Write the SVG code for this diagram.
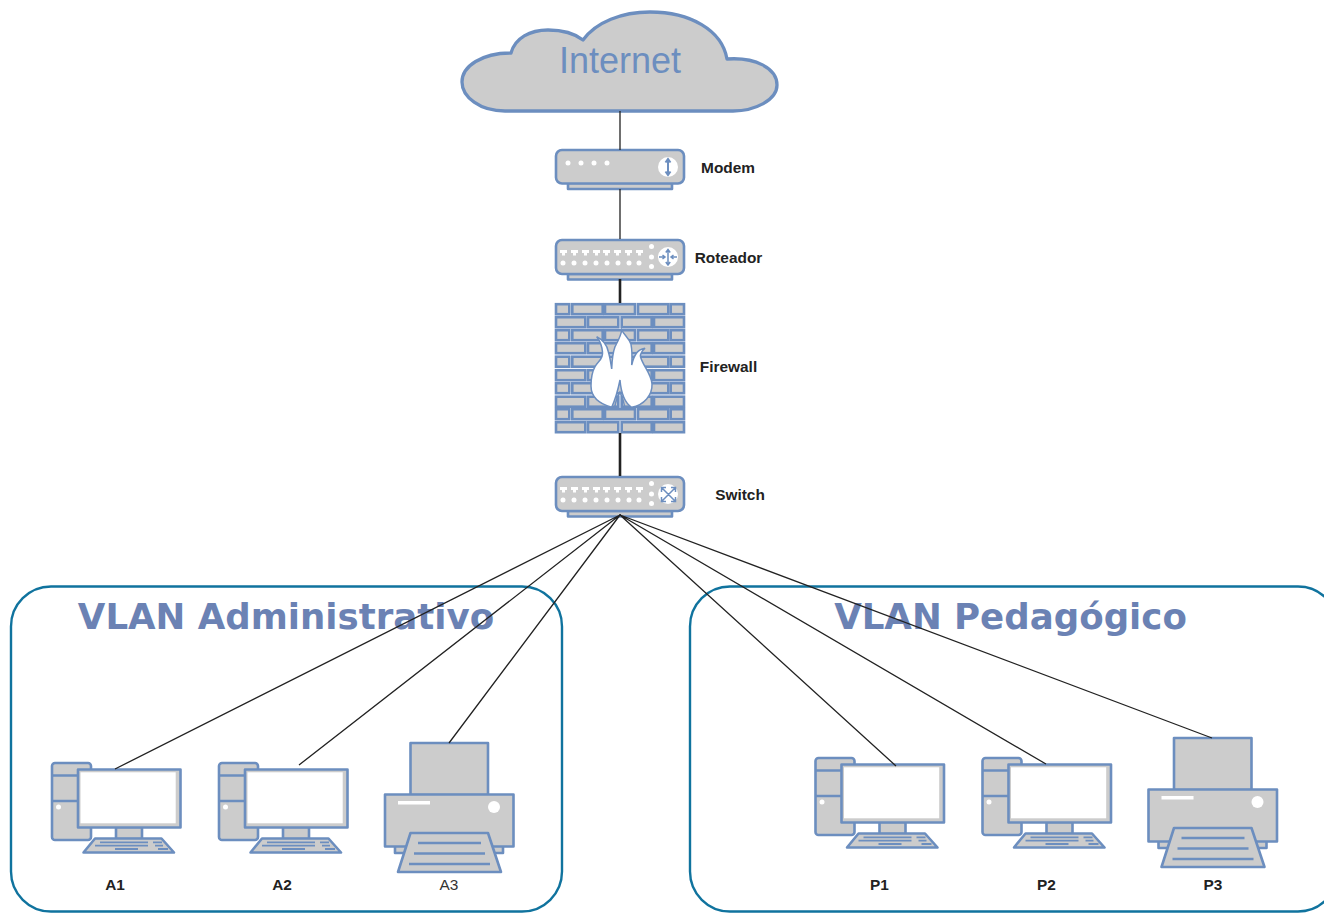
<svg xmlns="http://www.w3.org/2000/svg" width="1324" height="913" viewBox="0 0 1324 913">
<style>
text{font-family:"Liberation Sans",Arial,sans-serif}
.s{fill:#ccc;stroke:#6c8ebf;stroke-width:2.6;stroke-linejoin:round}
.b{fill:none;stroke:#6c8ebf;stroke-width:2.4}
.k{fill:none;stroke:#6c8ebf;stroke-width:1.8}
.w{fill:#fff}
.c{fill:none;stroke:#222;stroke-width:1.3}
.c2{fill:none;stroke:#222;stroke-width:2.6}
.vl{fill:none;stroke:#10739e;stroke-width:2.4}
.t{font-size:15.4px;font-weight:bold;fill:#222;text-anchor:middle}
.h{font-size:35.6px;font-weight:bold;fill:#6b82b4;text-anchor:middle;font-family:"DejaVu Sans",sans-serif}
.br{fill:#ccc;stroke:#6c8ebf;stroke-width:2.6}
.ic{fill:none;stroke:#6c8ebf;stroke-width:1.5}
</style>
<defs>
<g id="pc">
<rect class="s" x="1" y="1" width="39" height="77" rx="3"/>
<path class="b" d="M1 13.500H27M1 39H27"/>
<circle class="w" cx="7.500" cy="45" r="2.500"/>
<rect class="s" x="65" y="65" width="26" height="12"/>
<rect class="s" x="27" y="7.500" width="102.500" height="58"/>
<rect class="w" x="29.500" y="10.300" width="95.200" height="51"/>
<path class="s" d="M44 76.500H110.500L123 90.500H32.500Z"/>
<path class="k" d="M49 80.300H97M44 83.700H97M64 87H87M102 80.300H111M104 83.700H112M107 87H117"/>
</g>
<g id="printer">
<rect class="s" x="26.500" y="0" width="77.500" height="52"/>
<rect class="s" x="11" y="100" width="108" height="10"/>
<rect class="s" x="1" y="51.500" width="128.500" height="52"/>
<rect class="w" x="14" y="58" width="32" height="3.500"/>
<circle class="w" cx="110" cy="64" r="6"/>
<path class="s" d="M26.500 90H104L117 129H14Z"/>
<path class="b" d="M34 100H97M30 110.500H101M25 121H106"/>
</g>
<g id="row1">
<rect class="br" x="2" y="1.200" width="13.300" height="10"/><rect class="br" x="18.300" y="1.200" width="30.400" height="10"/><rect class="br" x="51" y="1.200" width="30" height="10"/><rect class="br" x="84" y="1.200" width="30.300" height="10"/><rect class="br" x="116.700" y="1.200" width="13.300" height="10"/>
</g>
<g id="row2">
<rect class="br" x="2" y="1.200" width="29.300" height="10"/><rect class="br" x="34" y="1.200" width="30.300" height="10"/><rect class="br" x="67.700" y="1.200" width="30" height="10"/><rect class="br" x="100" y="1.200" width="30" height="10"/>
</g>
<g id="rack">
<path class="s" d="M13 34H117V39.500H13Z"/>
<rect class="s" x="1" y="0" width="128" height="34" rx="6"/>
<g class="w">
<path d="M5 10H12V13H10V15.500H7V13H5Z"/><path d="M16 10H23V13H21V15.500H18V13H16Z"/><path d="M27 10H34V13H32V15.500H29V13H27Z"/><path d="M38 10H45V13H43V15.500H40V13H38Z"/><path d="M48 10H55V13H53V15.500H50V13H48Z"/><path d="M59 10H66V13H64V15.500H61V13H59Z"/><path d="M70 10H77V13H75V15.500H72V13H70Z"/><path d="M81 10H88V13H86V15.500H83V13H81Z"/>
<circle cx="8" cy="23" r="2.500"/><circle cx="19" cy="23" r="2.500"/><circle cx="30" cy="23" r="2.500"/><circle cx="41" cy="23" r="2.500"/><circle cx="52" cy="23" r="2.500"/><circle cx="63" cy="23" r="2.500"/><circle cx="74" cy="23" r="2.500"/><circle cx="84" cy="23" r="2.500"/>
<circle cx="96.500" cy="6.500" r="2.500"/><circle cx="96.500" cy="17" r="2.500"/><circle cx="96.500" cy="26.500" r="2.500"/>
<circle cx="113" cy="17" r="10"/>
</g>
</g>
</defs>

<g id="vlan-admin"><rect class="vl" x="11" y="586.500" width="551" height="325" rx="40"/>
<text class="h" x="286" y="629">VLAN Administrativo</text></g>
<g id="vlan-ped"><rect class="vl" x="690" y="586.500" width="648" height="325" rx="40"/>
<text class="h" x="1010.500" y="629">VLAN Pedagógico</text></g>

<g id="internet">
<path class="s" style="stroke-width:3.3" d="M505 111C480 111 462 97 462 82C462 66 482 53 511 53C515 38 530 30 548 30C562 30 574 33 583 40C596 22 622 12 650 12C690 12 722 30 727 59C755 57 777 68 777 85C777 100 755 111 733 111Z"/>
<text x="620" y="73" font-size="36" fill="#6c8ebf" text-anchor="middle">Internet</text>
</g>

<g id="modem">
<path class="s" d="M568 183H672V189H568Z"/>
<rect class="s" x="556" y="150" width="128" height="33.500" rx="6"/>
<g class="w"><circle cx="568" cy="163" r="2.500"/><circle cx="581" cy="163" r="2.500"/><circle cx="594" cy="163" r="2.500"/><circle cx="607" cy="163" r="2.500"/><circle cx="668" cy="167" r="10"/></g>
<path class="ic" style="stroke-width:2" d="M668 160V174M665.500 162.500L668 159L670.500 162.500M665.500 171.500L668 175L670.500 171.500"/>
<text class="t" x="728" y="173">Modem</text>
</g>

<g id="roteador">
<use href="#rack" x="555" y="240"/>
<path class="ic" d="M668 250V264.500M665.800 252.500L668 249.500L670.200 252.500M665.800 262L668 265L670.200 262M659 257H664.500M662.500 255L665 257L662.500 259M677 257H671.500M673.500 255L671 257L673.500 259"/>
<text class="t" x="728.500" y="263">Roteador</text>
</g>

<g id="firewall">
<use href="#row1" x="554" y="303"/><use href="#row2" x="554" y="316"/><use href="#row1" x="554" y="329"/><use href="#row2" x="554" y="342"/><use href="#row1" x="554" y="355.500"/><use href="#row2" x="554" y="369"/><use href="#row1" x="554" y="382"/><use href="#row2" x="554" y="395.500"/><use href="#row1" x="554" y="408"/><use href="#row2" x="554" y="421"/>
<path fill="#fff" stroke="#6c8ebf" stroke-width="1.500" d="M611.700 407.300C600 404 591 397 591 386C591 378 592 372 595 366.700C598 361 603.500 359 602.500 352C602 346 600 341 596.700 336.700C603 340 607 345 608.300 351.700C610 357 611 364 611.700 369C612 360 613 352 615 346.700C618 341 621 336 621.700 330C624 335 629 338 631 344.300C632.500 352 632 360 631.700 365C633 359 635 355 637 352.500C639 350 642 349 645 348.300C642 351 640 353 640.500 356.700C643 366 651.500 374 652 384C652.500 395 644 405 631.700 407.300C625 403 621 392 620 380C618 390 615 400 611.700 407.300Z"/>
<path class="ic" d="M614.500 408C616 400 618 395 620 392C622 396 624 402 625 408"/>
<text class="t" x="728.500" y="372">Firewall</text>
</g>

<g id="switch">
<use href="#rack" x="555" y="477"/>
<path class="ic" d="M662 488L675 501M675 488L662 501M661.500 492V487.500H666M671 487.500H675.500V492M661.500 497V501.500H666M671 501.500H675.500V497"/>
<text class="t" x="740" y="500">Switch</text>
</g>

<g id="A1"><use href="#pc" x="51" y="762"/><text class="t" x="115" y="890">A1</text></g>
<g id="A2"><use href="#pc" x="218" y="762"/><text class="t" x="282" y="890">A2</text></g>
<g id="A3"><use href="#printer" x="384" y="743"/><text x="449" y="890" font-size="15.4" fill="#333" text-anchor="middle">A3</text></g>
<g id="P1"><use href="#pc" x="814.500" y="757"/><text class="t" x="879.500" y="890">P1</text></g>
<g id="P2"><use href="#pc" x="981.500" y="757"/><text class="t" x="1046.500" y="890">P2</text></g>
<g id="P3"><use href="#printer" x="1147.500" y="738"/><text class="t" x="1213" y="890">P3</text></g>

<g id="connectors">
<path class="c" d="M620 111V150M620 189V239"/>
<path class="c2" d="M620 279V303M620 433V476"/>
<path class="c" d="M620 515L115 769M620 515L299 765M620 515L449 743M620 515L896 766M620 515L1046 764M620 515L1212 738"/>
</g>
</svg>
